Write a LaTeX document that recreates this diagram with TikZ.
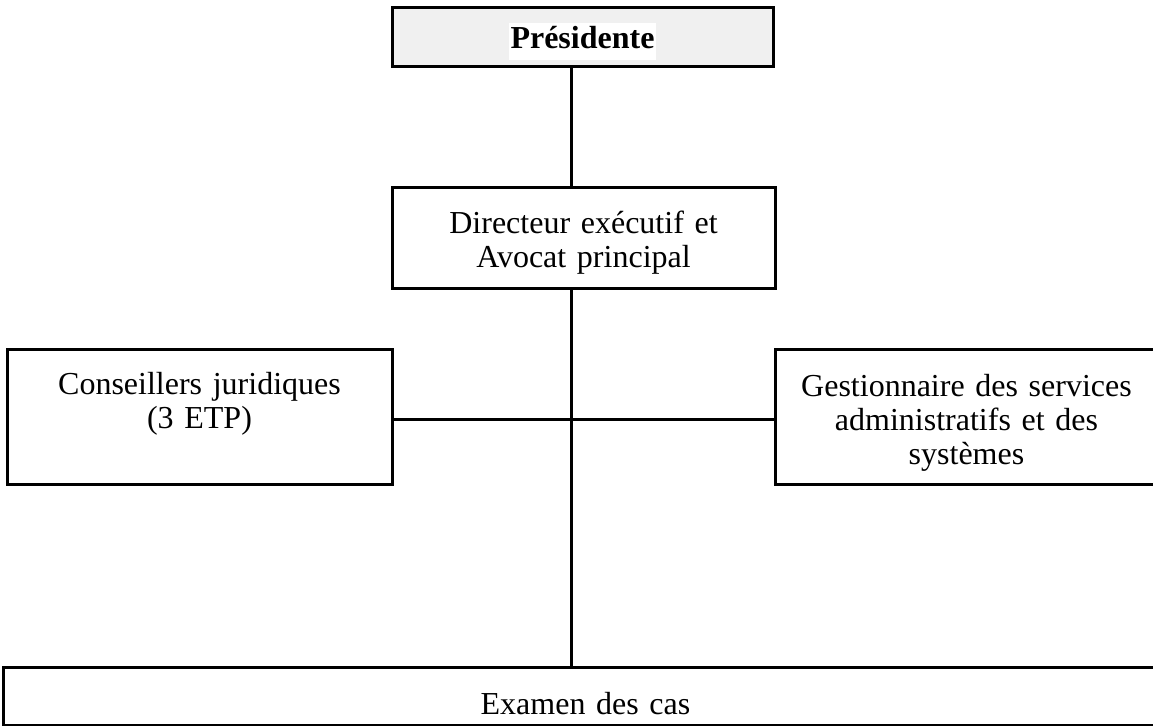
\documentclass[tikz,border=0pt]{standalone}
\usepackage{fontspec}
\setmainfont{Liberation Serif}
\begin{document}
\begin{tikzpicture}[x=1pt, y=-1pt, line width=3pt, box_style/.style={draw=black,rectangle,anchor=north,inner sep=0pt,align=center,font=\fontsize{32}{34}\selectfont}, head_style/.style={box_style,fill=black!6}, edge_style/.style={draw=black, line width=3pt}]
      \useasboundingbox (0,0) rectangle (1153,725);
      \draw
        (582.5,6.5) node[head_style, text width=381pt, text height=40.5pt, text depth=18pt] (pres){\setlength{\fboxsep}{1.5pt}\colorbox{white}{\strut\textbf{Présidente}}}
        (583.5,186) node[box_style, text width=383pt, text height=46pt, text depth=55pt] (dir){Directeur exécutif et\\Avocat principal}
        (199.5,348) node[box_style, text width=385pt, text height=45pt, text depth=90pt] (legal){Conseillers juridiques\\(3 ETP)}
        (966.5,348) node[box_style, text width=383pt, text height=47pt, text depth=88pt] (admin){Gestionnaire des services\\administratifs et des\\systèmes}
        (585.5,666) node[box_style, text width=1165pt, text height=47pt, text depth=11pt] (exam){Examen des cas};
      \coordinate (spine) at (571,0);
      \coordinate (hub) at (571,419);
      \begin{scope}[-]
        \draw[edge_style] (pres.south -| spine) -- (dir.north -| spine);
        \draw[edge_style] (dir.south -| spine) -- (exam.north -| spine);
        \draw[edge_style] (legal.east |- hub) -- (admin.west |- hub);
      \end{scope}
    \end{tikzpicture}
\end{document}
